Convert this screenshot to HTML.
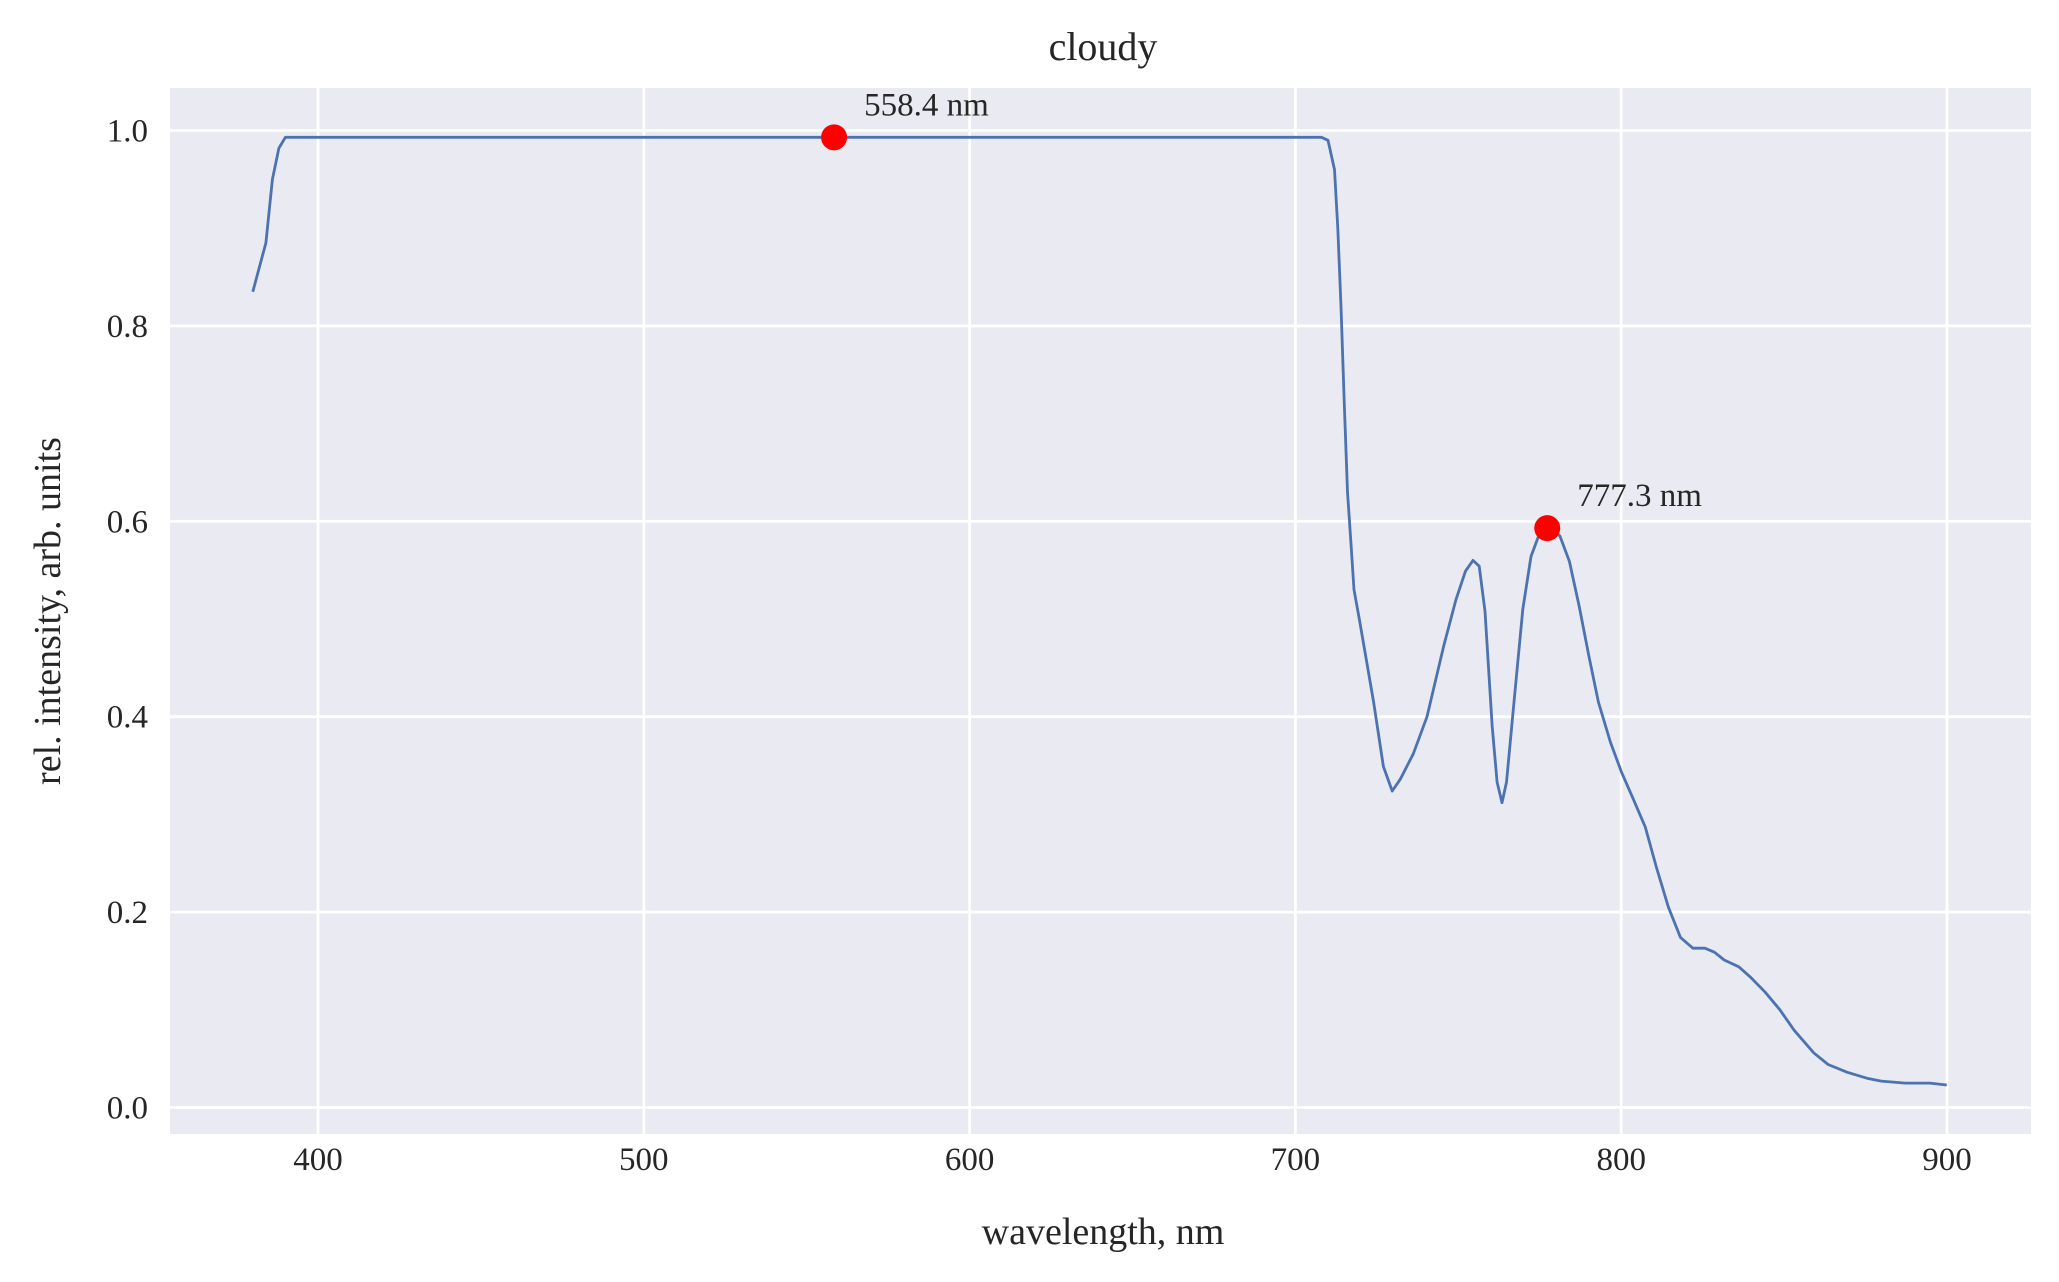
<!DOCTYPE html>
<html><head><meta charset="utf-8"><style>
body{margin:0;background:#fff}
svg{display:block;font-family:"Liberation Serif","DejaVu Serif",serif}
</style></head><body>
<svg id="chart" width="2059" height="1282" viewBox="0 0 2059 1282" xmlns="http://www.w3.org/2000/svg">
<rect x="170" y="88" width="1861" height="1046" fill="#EAEAF2"/>
<g id="grid"></g>
<g id="xticks" font-size="33" fill="#262626" text-anchor="middle"></g>
<g id="yticks" font-size="33" fill="#262626" text-anchor="end"></g>
<path id="series" fill="none" stroke="#4C72B0" stroke-width="2.8" stroke-linejoin="round"/>
<g id="peaks"></g>
<text x="1103" y="60" font-size="40" fill="#262626" text-anchor="middle">cloudy</text>
<text x="1103" y="1244" font-size="38" fill="#262626" text-anchor="middle">wavelength, nm</text>
<text x="0" y="0" font-size="38" fill="#262626" text-anchor="middle" transform="translate(60,611) rotate(-90)">rel. intensity, arb. units</text>
</svg>
<script>
const xTicks=[400,500,600,700,800,900];
const yTicks=[0,0.2,0.4,0.6,0.8,1.0];
const yTickLabels=["0.0","0.2","0.4","0.6","0.8","1.0"];
const wavelengths=[380,384,386,388,390,400,500,600,700,708,710,712,713,714,715,716,717,718,719.6,724,727,729.7,732.2,736.2,740.4,745.5,749.3,752.2,754.5,756.4,758.2,760.4,761.9,763.4,764.8,767.1,769.8,772.3,775.2,777.6,781.2,784.1,787.1,790.1,793,796.7,800,803.4,807.4,810.8,814.5,818.2,822,825.7,828.6,831.6,836.1,839.8,844.2,848.7,853.1,859.1,863.5,869.4,875.4,879.8,887.2,894.7,899.9];
const intensity=[0.835,0.885,0.95,0.982,0.993,0.993,0.993,0.993,0.993,0.993,0.99,0.96,0.9,0.82,0.72,0.63,0.58,0.53,0.5,0.415,0.349,0.324,0.336,0.362,0.40,0.472,0.52,0.549,0.56,0.554,0.508,0.39,0.333,0.312,0.333,0.415,0.51,0.564,0.59,0.595,0.585,0.559,0.513,0.462,0.415,0.374,0.344,0.318,0.287,0.246,0.205,0.174,0.163,0.163,0.159,0.151,0.144,0.133,0.118,0.1,0.079,0.056,0.044,0.036,0.03,0.027,0.025,0.025,0.023];
const peakX=[558.4,777.3];
const peakY=[0.993,0.593];
const peakLabels=["558.4 nm","777.3 nm"];
const NS="http://www.w3.org/2000/svg";
const X=v=>318+(v-400)*3.258;
const Y=v=>1107.5-v*977;
const grid=document.getElementById('grid');
xTicks.forEach(t=>{
 const l=document.createElementNS(NS,'line');
 
 
 l.setAttribute('x1',X(t));l.setAttribute('x2',X(t));l.setAttribute('y1',88);l.setAttribute('y2',1134);
 l.setAttribute('stroke','#fff');l.setAttribute('stroke-width','2.8');grid.appendChild(l);
 const tx=document.createElementNS(NS,'text');
 
 
 tx.setAttribute('x',X(t));tx.setAttribute('y',1170);tx.textContent=t;
 document.getElementById('xticks').appendChild(tx);
});
yTicks.forEach((t,i)=>{
 const l=document.createElementNS(NS,'line');
 
 
 l.setAttribute('x1',170);l.setAttribute('x2',2031);l.setAttribute('y1',Y(t));l.setAttribute('y2',Y(t));
 l.setAttribute('stroke','#fff');l.setAttribute('stroke-width','2.8');grid.appendChild(l);
 const tx=document.createElementNS(NS,'text');
 
 
 tx.setAttribute('x',148);tx.setAttribute('y',Y(t)+11);tx.textContent=yTickLabels[i];
 document.getElementById('yticks').appendChild(tx);
});
document.getElementById('series').setAttribute('d',wavelengths.map((w,i)=>(i?'L':'M')+X(w).toFixed(1)+' '+Y(intensity[i]).toFixed(1)).join(' '));
const pk=document.getElementById('peaks');
peakX.forEach((p,i)=>{
 const c=document.createElementNS(NS,'circle');
 
 
 c.setAttribute('cx',X(p));c.setAttribute('cy',Y(peakY[i]));c.setAttribute('r',13);c.setAttribute('fill','#FF0000');
 pk.appendChild(c);
 const t=document.createElementNS(NS,'text');
 
 
 t.setAttribute('x',X(p)+30);t.setAttribute('y',Y(peakY[i])-22);t.setAttribute('font-size','33');t.setAttribute('fill','#262626');
 t.textContent=peakLabels[i];pk.appendChild(t);
});
</script>
</body></html>
